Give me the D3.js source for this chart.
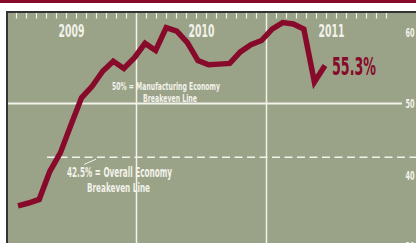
<!DOCTYPE html>
<html>
<head>
<meta charset="utf-8">
<script src="https://cdn.jsdelivr.net/npm/d3@7"></script>
<style>
  body { margin: 0; background: #fff; }
  svg { display: block; }
</style>
</head>
<body>
<div id="container"></div>
<script>
// monthly readings, Jan 2009 .. Jun 2011
const months = ["2009-01","2009-02","2009-03","2009-04","2009-05","2009-06","2009-07","2009-08","2009-09","2009-10","2009-11","2009-12",
                "2010-01","2010-02","2010-03","2010-04","2010-05","2010-06","2010-07","2010-08","2010-09","2010-10","2010-11","2010-12",
                "2011-01","2011-02","2011-03","2011-04","2011-05","2011-06"];
const values = [35.7, 36.1, 36.6, 40.5, 43.1, 47.0, 50.8, 52.4, 54.5, 55.9, 54.9, 56.4,
                58.4, 57.4, 60.6, 60.1, 58.5, 56.0, 55.4, 55.5, 55.6, 57.2, 58.2, 58.8,
                60.4, 61.3, 61.1, 60.4, 53.0, 55.3];
const years = ["2009", "2010", "2011"];
const yTicks = [30, 40, 50, 60];
const mfgBreakeven = 50;
const overallBreakeven = 42.5;
const lastLabel = "55.3%";

const width = 416, height = 243;
const maroon = "#870a2b";
const panelBg = "#9aa287";
const ink = "#f2f2ea";
const font = "'Liberation Sans Narrow','DejaVu Sans Condensed','Arial Narrow',sans-serif";

const svg = d3.select("#container").append("svg")
  .attr("width", width)
  .attr("height", height);

// top strip + panel
svg.append("rect").attr("x", 0).attr("y", 0).attr("width", width).attr("height", 3).attr("fill", maroon);
svg.append("rect").attr("x", 6).attr("y", 11).attr("width", width - 6).attr("height", height - 11).attr("fill", panelBg);
svg.append("line").attr("x1", 6).attr("x2", width).attr("y1", 12).attr("y2", 12)
  .attr("stroke", "#333").attr("stroke-width", 2);
svg.append("line").attr("x1", 7).attr("x2", 7).attr("y1", 11).attr("y2", height)
  .attr("stroke", "#333").attr("stroke-width", 2);

// scales
const parse = d3.timeParse("%Y");
const xYear = d3.scaleTime()
  .domain([parse("2009"), parse("2012")])
  .range([6.5, 396.5]);
const xPeriod = d3.scaleLinear().domain([0, 39]).range([6.5, 396.5]); // 13 four-week periods per year
const x = d3.scaleLinear().domain([0, months.length - 1]).range([18, 325]);
const y = d3.scaleLinear().domain([30, 60]).range([246.7, 31.9]);

// small ticks along top
svg.append("g").selectAll("line")
  .data(d3.range(1, 39).filter(k => k % 13 !== 0))
  .join("line")
  .attr("x1", d => xPeriod(d)).attr("x2", d => xPeriod(d))
  .attr("y1", 13).attr("y2", 18.5)
  .attr("stroke", ink).attr("stroke-width", 1.2);

// year dividers
svg.append("g").selectAll("line")
  .data(years.slice(1))
  .join("line")
  .attr("x1", d => xYear(parse(d))).attr("x2", d => xYear(parse(d)))
  .attr("y1", 13).attr("y2", height)
  .attr("stroke", ink).attr("stroke-width", 1.5);

// year labels
svg.append("g").selectAll("text")
  .data(years)
  .join("text")
  .attr("x", d => (xYear(parse(d)) + xYear(parse(String(+d + 1)))) / 2 - 26 / 2)
  .attr("y", 37)
  .attr("textLength", 26)
  .attr("lengthAdjust", "spacingAndGlyphs")
  .attr("font-family", font).attr("font-weight", "bold").attr("font-size", 17)
  .attr("fill", ink)
  .text(d => d);

// 50 gridline
svg.append("line")
  .attr("x1", 8).attr("x2", 402)
  .attr("y1", y(mfgBreakeven)).attr("y2", y(mfgBreakeven))
  .attr("stroke", ink).attr("stroke-width", 1.8);

// 42.5 dashed line
svg.append("line")
  .attr("x1", 47).attr("x2", width)
  .attr("y1", y(overallBreakeven)).attr("y2", y(overallBreakeven))
  .attr("stroke", ink).attr("stroke-width", 1.4)
  .attr("stroke-dasharray", "8,4.5");

// y labels (squeezed horizontally to a condensed look)
svg.append("g").selectAll("g")
  .data(yTicks)
  .join("g")
  .attr("transform", d => `translate(410,${y(d)}) scale(0.58,1)`)
  .append("text")
  .attr("text-anchor", "middle")
  .attr("dy", "0.37em")
  .attr("font-family", font).attr("font-weight", "bold").attr("font-size", 12.5)
  .attr("fill", ink)
  .text(d => d);

// annotations
const ann = svg.append("g").attr("font-family", font).attr("fill", ink).attr("font-weight", "bold");
ann.append("text").attr("x", 112).attr("y", 89.5)
  .attr("font-size", 11).attr("textLength", 108).attr("lengthAdjust", "spacingAndGlyphs")
  .text("50% = Manufacturing Economy");
ann.append("text").attr("x", 143).attr("y", 101.7)
  .attr("font-size", 11).attr("textLength", 54).attr("lengthAdjust", "spacingAndGlyphs")
  .text("Breakeven Line");
ann.append("text").attr("x", 67).attr("y", 177.3)
  .attr("font-size", 13.5)
  .attr("textLength", 105).attr("lengthAdjust", "spacingAndGlyphs")
  .text("42.5% = Overall Economy");
ann.append("text").attr("x", 87).attr("y", 191.7)
  .attr("font-size", 13)
  .attr("textLength", 63).attr("lengthAdjust", "spacingAndGlyphs")
  .text("Breakeven Line");
svg.append("line")
  .attr("x1", 84).attr("y1", 164.5).attr("x2", 96).attr("y2", y(overallBreakeven) + 2)
  .attr("stroke", ink).attr("stroke-width", 1);

// data line
const line = d3.line()
  .x((d, i) => x(i))
  .y(d => y(d));
svg.append("path")
  .datum(values)
  .attr("d", line)
  .attr("fill", "none")
  .attr("stroke", maroon)
  .attr("stroke-width", 5.5)
  .attr("stroke-linejoin", "miter")
  .attr("stroke-miterlimit", 10);

// last value label
svg.append("text")
  .attr("x", 332).attr("y", 75)
  .attr("font-family", font).attr("font-weight", "bold").attr("font-size", 25)
  .attr("textLength", 44).attr("lengthAdjust", "spacingAndGlyphs")
  .attr("fill", maroon)
  .text(lastLabel);
</script>
</body>
</html>
